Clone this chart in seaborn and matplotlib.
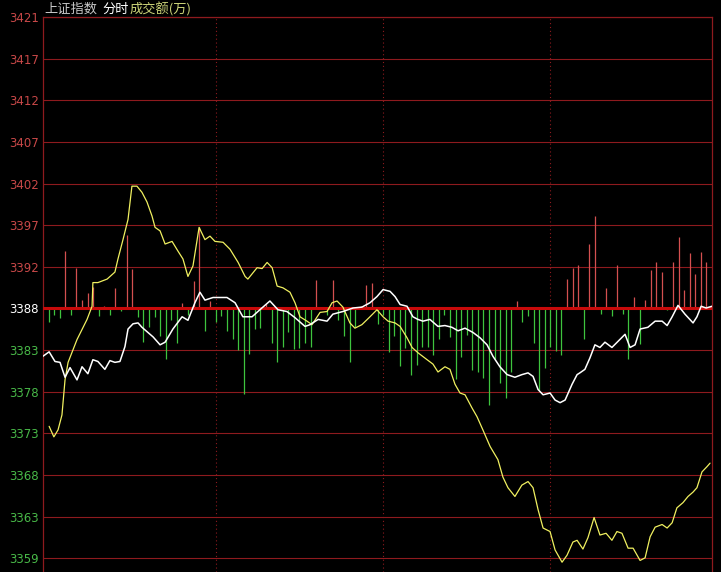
import numpy as np
import matplotlib
matplotlib.use("Agg")
import matplotlib.pyplot as plt
import seaborn as sns

# price grid: previous close and the spacing between grid rows
prev_close = 3388.25
grid_step = 4.75
price_labels = ["3359", "3363", "3368", "3373", "3378", "3383", "3388",
                "3392", "3397", "3402", "3407", "3412", "3417", "3421"]
hour_marks = [62, 122, 182]

# white line (weighted index), minutes from open / price
white_t = [0, 2.2, 4.3, 6.1, 7.9, 9.7, 12.2, 14.0, 16.1, 17.9, 19.7, 22.2, 24.0, 25.8,
           27.6, 29.4, 30.5, 32.3, 34.1, 35.5, 39.5, 42.0, 43.8, 46.6, 49.9, 52.0, 54.5,
           56.3, 58.1, 61.0, 66.0, 68.9, 71.7, 75.0, 77.8, 81.4, 84.3, 87.5, 90.4, 94.0,
           95.8, 98.7, 101.9, 104.0, 107.6, 111.2, 114.4, 117.3, 119.8, 122.0, 124.5,
           126.3, 128.1, 130.6, 132.7, 134.5, 136.3, 138.8, 141.7, 144.2, 146.7, 148.9,
           151.4, 154.3, 156.8, 159.3, 161.4, 163.9, 166.5, 169.3, 171.8, 174.0, 175.8,
           177.6, 179.4, 181.9, 183.7, 185.5, 187.3, 189.8, 191.6, 192.6, 194.4, 196.2,
           198.0, 199.8, 201.6, 204.1, 206.3, 208.8, 210.6, 212.4, 214.2, 217.0, 219.6,
           222.1, 223.9, 225.7, 227.8, 230.3, 233.2, 234.6, 236.1, 237.9, 240.0]
white_p = [3382.8, 3383.3, 3382.2, 3382.1, 3380.4, 3381.5, 3380.1, 3381.6, 3380.8, 3382.4,
           3382.2, 3381.3, 3382.3, 3382.1, 3382.2, 3383.9, 3385.9, 3386.5, 3386.6, 3386.1,
           3385.0, 3384.1, 3384.4, 3385.9, 3387.3, 3386.9, 3388.9, 3390.1, 3389.2, 3389.5,
           3389.5, 3388.9, 3387.3, 3387.3, 3388.1, 3389.1, 3388.1, 3387.9, 3387.2, 3386.2,
           3386.4, 3387.0, 3386.8, 3387.6, 3387.9, 3388.3, 3388.4, 3388.9, 3389.6, 3390.4,
           3390.2, 3389.6, 3388.7, 3388.5, 3387.3, 3387.0, 3386.8, 3387.0, 3386.2, 3386.3,
           3386.1, 3385.7, 3386.0, 3385.5, 3384.9, 3384.1, 3382.8, 3381.6, 3380.7, 3380.4,
           3380.7, 3380.9, 3380.5, 3379.0, 3378.4, 3378.6, 3377.8, 3377.5, 3377.8, 3379.6,
           3380.7, 3380.9, 3381.3, 3382.6, 3384.1, 3383.8, 3384.4, 3383.8, 3384.5, 3385.3,
           3383.8, 3384.1, 3385.9, 3386.1, 3386.8, 3386.8, 3386.3, 3387.3, 3388.6, 3387.6,
           3386.6, 3387.3, 3388.5, 3388.3, 3388.5]

# yellow line (unweighted index)
yellow_t = [2.2, 3.9, 5.4, 6.8, 7.9, 9.0, 12.2, 15.8, 17.6, 17.9, 19.7, 23.0, 25.8, 26.9,
            28.7, 30.5, 31.9, 33.7, 35.5, 37.3, 39.1, 40.2, 42.0, 43.8, 46.3, 48.4, 50.2,
            52.0, 53.8, 56.0, 58.1, 59.9, 61.7, 64.6, 67.1, 70.0, 72.5, 73.5, 76.8, 78.6,
            80.4, 82.2, 84.0, 86.1, 88.6, 90.4, 92.2, 94.7, 96.5, 99.4, 101.9, 103.7,
            105.5, 107.6, 110.1, 111.9, 114.4, 117.3, 119.8, 122.0, 123.8, 126.3, 128.1,
            130.6, 132.4, 134.5, 137.8, 139.9, 141.7, 144.2, 146.0, 147.8, 149.6, 151.4,
            153.9, 155.7, 157.8, 160.4, 163.2, 165.0, 166.8, 169.3, 171.8, 174.0, 175.8,
            177.6, 179.4, 181.9, 183.7, 186.2, 188.0, 190.1, 191.6, 193.7, 195.5, 197.7,
            199.8, 202.0, 204.1, 205.9, 207.7, 209.9, 211.7, 214.2, 216.0, 217.8, 219.6,
            222.1, 223.9, 225.7, 227.4, 229.6, 231.4, 233.2, 234.6, 236.4, 238.2, 239.3]
yellow_p = [3374.8, 3373.6, 3374.4, 3376.1, 3380.1, 3382.1, 3384.7, 3387.0, 3388.5, 3391.2,
            3391.2, 3391.6, 3392.4, 3393.9, 3396.1, 3398.4, 3402.2, 3402.2, 3401.5, 3400.4,
            3398.8, 3397.5, 3397.1, 3395.6, 3395.9, 3394.8, 3393.9, 3391.9, 3393.1, 3397.5,
            3396.1, 3396.5, 3395.9, 3395.8, 3395.0, 3393.5, 3391.9, 3391.6, 3392.9, 3392.8,
            3393.5, 3392.9, 3390.8, 3390.6, 3390.1, 3388.9, 3387.3, 3386.8, 3386.4, 3387.8,
            3387.9, 3388.9, 3389.1, 3388.4, 3386.6, 3386.0, 3386.4, 3387.3, 3388.1, 3387.3,
            3386.8, 3386.6, 3386.2, 3384.9, 3383.8, 3383.2, 3382.4, 3381.9, 3381.0, 3381.6,
            3381.3, 3379.6, 3378.6, 3378.4, 3376.9, 3375.9, 3374.4, 3372.5, 3371.0, 3369.0,
            3367.8, 3366.8, 3368.1, 3368.5, 3367.8, 3365.3, 3363.2, 3362.8, 3360.7, 3359.3,
            3360.1, 3361.6, 3361.8, 3360.8, 3362.1, 3364.4, 3362.4, 3362.6, 3361.8, 3362.8,
            3362.6, 3360.9, 3360.9, 3359.5, 3359.8, 3362.2, 3363.3, 3363.6, 3363.2, 3363.8,
            3365.5, 3366.1, 3366.8, 3367.3, 3367.8, 3369.6, 3370.2, 3370.6]

# up/down bars every two minutes, signed, in price-grid units
bar_t = np.arange(2, 240, 2)
bar_delta = [-1.5, -0.8, -1.1, 6.5, -0.7, 4.6, 1.0, 1.8, 2.4, -0.9,
             0.3, -0.7, 2.3, -0.3, 8.4, 4.5, -1.0, -3.8, -2.1, -1.0,
             -3.1, -5.8, -1.3, -3.9, 0.6, -0.7, 3.1, 9.3, -2.6, 0.8,
             -1.6, -0.9, -2.6, -3.5, -4.7, -9.8, -5.2, -2.3, -2.2, 0.5,
             -3.9, -6.1, -4.4, -2.7, -4.6, -4.5, -3.9, -4.4, 3.2, 0.0,
             -0.7, 3.2, -1.3, -3.2, -6.1, -2.1, 0.3, 2.7, 2.9, -1.8,
             -0.7, -5.0, -3.2, -6.6, -4.5, -7.6, -6.4, -4.4, -4.4, -5.3,
             -3.5, -0.7, -3.3, -8.0, -5.5, -3.0, -7.0, -7.3, -7.9, -11.0,
             -5.8, -8.5, -10.2, -7.3, 0.9, -1.5, -0.9, -3.9, -9.3, -6.8,
             -4.4, -4.9, -5.3, 3.4, 4.6, 4.9, -3.5, 7.3, 10.6, -0.6,
             2.3, -0.9, 4.9, -0.6, -5.8, 1.3, -4.1, 1.0, 4.4, 5.3,
             4.2, -0.2, 5.3, 8.1, 2.1, 6.3, 3.9, 6.4, 5.3]

grid_red = "#8e1a1e"
up_red = "#d45050"
down_green = "#3ec43e"

sns.set_theme(style="dark", rc={"axes.facecolor": "black", "figure.facecolor": "black"})
plt.rcParams["font.family"] = ["DejaVu Sans"]

fig = plt.figure(figsize=(7.21, 5.72), dpi=100)
ax = fig.add_axes([43 / 721, 0, 669 / 721, 555 / 572])

levels = prev_close + grid_step * np.arange(-6, 8)
for lv in levels:
    ax.axhline(lv, color=grid_red, lw=0.8, zorder=1)
for hm in hour_marks:
    ax.axvline(hm, color=grid_red, lw=0.8, ls=(0, (1, 2.5)), zorder=1)

delta = np.array(bar_delta)
up = delta > 0
down = delta < 0
ax.vlines(bar_t[up], prev_close, prev_close + delta[up], color=up_red, lw=0.9, zorder=2)
ax.vlines(bar_t[down], prev_close, prev_close + delta[down], color=down_green, lw=0.9, zorder=2)
ax.axhline(prev_close, color="#c80a0a", lw=2.2, zorder=3)

sns.lineplot(x=yellow_t, y=yellow_p, ax=ax, color="#f0f060", lw=0.9,
             sort=False, estimator=None, zorder=4)
sns.lineplot(x=white_t, y=white_p, ax=ax, color="white", lw=1.1,
             sort=False, estimator=None, zorder=5)

ax.set_xlim(0, 240)
ax.set_ylim(prev_close - 6.33 * grid_step, prev_close + 7 * grid_step)
ax.set_xticks([])
ax.set_yticks(levels)
ax.set_yticklabels(price_labels, fontsize=8.5)
ax.tick_params(axis="y", length=0, pad=3)
for lv, lab in zip(levels, ax.get_yticklabels()):
    if lv > prev_close + 0.1:
        lab.set_color("#c84848")
    elif lv < prev_close - 0.1:
        lab.set_color("#48b848")
    else:
        lab.set_color("white")
ax.set_xlabel("")
ax.set_ylabel("")

for side in ["left", "right", "top"]:
    ax.spines[side].set_visible(True)
    ax.spines[side].set_color(grid_red)
    ax.spines[side].set_linewidth(0.9)
ax.spines["bottom"].set_visible(False)

cjk = ["Noto Sans CJK SC", "DejaVu Sans"]
fig.text(44 / 721, 1 - 9 / 572, "上证指数", color="#c8c8c8", fontsize=9.5,
         family=cjk, va="center", ha="left")
fig.text(102 / 721, 1 - 9 / 572, "分时", color="white", fontsize=9.5,
         family=cjk, va="center", ha="left")
fig.text(130 / 721, 1 - 9 / 572, "成交额(万)", color="#cdd478", fontsize=9.5,
         family=cjk, va="center", ha="left")

fig.savefig("out.png", dpi=100, facecolor="black")
